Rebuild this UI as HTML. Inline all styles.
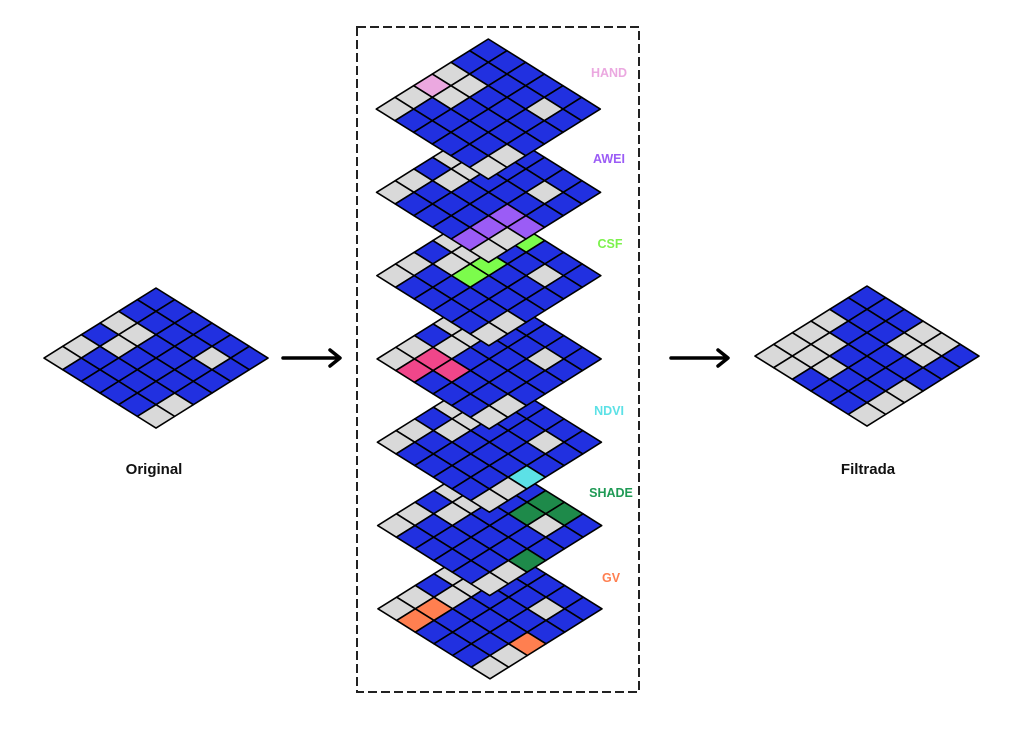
<!DOCTYPE html>
<html><head><meta charset="utf-8"><style>
html,body{margin:0;padding:0;background:#fff;}
svg{display:block}
text{font-family:"Liberation Sans",sans-serif;font-weight:bold}
</style></head><body>
<svg id="s" width="1024" height="737" viewBox="0 0 1024 737" xmlns="http://www.w3.org/2000/svg">
<rect x="357" y="27" width="282" height="665" fill="none" stroke="#222" stroke-width="2" stroke-dasharray="9,4"/>
<g id="grids"></g>
<g stroke="#000" stroke-width="3.5" fill="none" stroke-linecap="round" stroke-linejoin="round">
<line x1="283" y1="358" x2="339" y2="358"/><polyline points="330,350 340,358 330,366"/>
<line x1="671" y1="358" x2="727" y2="358"/><polyline points="718,350 728,358 718,366"/>
</g>
<text x="154" y="474" font-size="15" text-anchor="middle" fill="#111">Original</text>
<text x="868" y="474" font-size="15" text-anchor="middle" fill="#111">Filtrada</text>
<g font-size="12.5" text-anchor="middle">
<text x="609" y="77" fill="#EBA8E0">HAND</text>
<text x="609" y="163" fill="#9B5CF6">AWEI</text>
<text x="610" y="248" fill="#7CF24C">CSF</text>
<text x="609" y="415" fill="#5CE1E6">NDVI</text>
<text x="611" y="497" fill="#1F9A55">SHADE</text>
<text x="611" y="582" fill="#FF7F50">GV</text>
</g>
</svg>
<script>
var g=document.getElementById('grids');
var NS='http://www.w3.org/2000/svg';
var ax=18.67,ay=11.67;
var baseGray=[[5,0],[4,0],[2,0],[3,1],[2,1],[1,4],[4,5],[5,5]];
var filtGray=[[2,0],[3,0],[4,0],[5,0],[3,1],[4,1],[5,1],[4,2],[0,3],[1,3],[0,4],[1,4],[3,5],[4,5],[5,5]];
function grid(tx,ty,gray,extra){
  var col={};
  gray.forEach(function(p){col[p[0]+','+p[1]]='#D9D9D9';});
  (extra||[]).forEach(function(p){col[p[0]+','+p[1]]=p[2];});
  var grp=document.createElementNS(NS,'g');
  for(var i=0;i<6;i++)for(var j=0;j<6;j++){
    var x=tx+(j-i)*ax,y=ty+(i+j)*ay;
    var pts=[x,y,x+ax,y+ay,x,y+2*ay,x-ax,y+ay].map(function(v){return v.toFixed(2)}).join(' ');
    var p=document.createElementNS(NS,'polygon');
    p.setAttribute('points',pts);
    p.setAttribute('fill',col[i+','+j]||'#2130E0');
    p.setAttribute('stroke','#000');p.setAttribute('stroke-width','1.6');p.setAttribute('stroke-linejoin','round');
    grp.appendChild(p);
  }
  return grp;
}
g.appendChild(grid(156,288,baseGray));
g.appendChild(grid(867,286,filtGray));
var layers=[
 [[3,0,'#EBA8E0']],
 [[3,4,'#9B5CF6'],[4,4,'#9B5CF6'],[3,5,'#9B5CF6'],[5,4,'#9B5CF6']],
 [[3,2,'#7CFC4C'],[2,2,'#7CFC4C'],[0,2,'#7CFC4C']],
 [[4,1,'#F0468A'],[5,1,'#F0468A'],[4,2,'#F0468A']],
 [[3,5,'#5CE1E6']],
 [[0,3,'#1E8A4A'],[1,3,'#1E8A4A'],[0,4,'#1E8A4A'],[3,5,'#1E8A4A']],
 [[4,1,'#FF7F50'],[5,1,'#FF7F50'],[3,5,'#FF7F50']]
];
var grs=[];
for(var k=6;k>=0;k--){
  g.appendChild(grid(488.3+k*0.28,39+k*83.3,baseGray,layers[k]));
}
</script>
</body></html>
